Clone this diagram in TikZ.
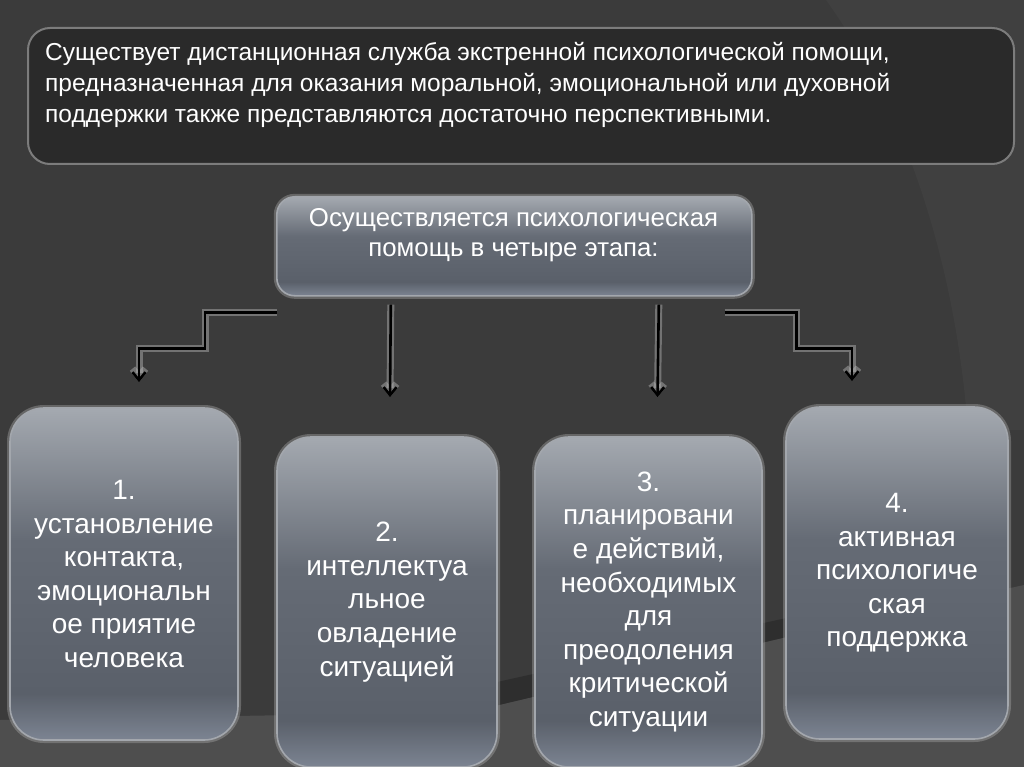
\documentclass[tikz,border=0pt]{standalone}
\usepackage{fontspec}
\setmainfont{Liberation Sans}
\usetikzlibrary{arrows.meta,calc}
\definecolor{bg}{HTML}{3B3B3B}
\definecolor{bgarc}{HTML}{404040}
\definecolor{floorc}{HTML}{4E4E4E}
\definecolor{bandc}{HTML}{2E2E2E}
\definecolor{infofill}{HTML}{2A2A2A}
\definecolor{infoline}{HTML}{7C7C7C}
\definecolor{btop}{HTML}{A4A9B0}
\definecolor{bmid}{HTML}{656B75}
\definecolor{bmid2}{HTML}{5A606A}
\definecolor{bbot}{HTML}{7C8492}
\definecolor{bline}{HTML}{A3A7AD}
\definecolor{glowc}{HTML}{B8B8B8}
\pgfdeclareverticalshading{stageshade}{100bp}{color(0bp)=(bbot); color(25bp)=(bbot); color(32bp)=(bmid2); color(55bp)=(bmid); color(75bp)=(btop); color(100bp)=(btop)}
\tikzset{
  infobox/.style={draw=infoline, line width=2pt, fill=infofill, rounded corners=22pt, inner sep=0pt},
  stagebox/.style={draw=bline, line width=1.6pt, shading=stageshade, rounded corners=34pt,
     preaction={draw=glowc, line width=6pt, opacity=0.35},
     text=white, align=center, inner sep=0pt, font=\fontsize{28}{33.6}\selectfont},
  mainbox/.style={stagebox, rounded corners=18pt},
  conn/.style={draw=black, line width=2.6pt, line join=miter,
     preaction={draw=glowc, line width=7pt, opacity=0.45}},
  arr/.style={conn, -{Straight Barb[length=8pt,width=13pt]}}
}
\begin{document}
\begin{tikzpicture}[x=1pt,y=-1pt]
\useasboundingbox (0,0) rectangle (1024,767);
% background
\fill[bg] (0,0) rectangle (1024,767);
\fill[bgarc] (826,0) .. controls (905,110) and (955,260) .. (968,430) -- (1024,430) -- (1024,0) -- cycle;
\fill[bandc] (470,688) -- (800,615) -- (800,634) -- (470,712) -- cycle;
\fill[floorc] (0,720) -- (470,712) -- (800,634) -- (1024,585) -- (1024,767) -- (0,767) -- cycle;
% top information box
\node[infobox, anchor=north west, minimum width=986pt, minimum height=136pt] (info) at (27,27) {};
\node[anchor=north west, inner sep=0pt, align=left, text=white, font=\fontsize{24.5}{31}\selectfont] (infotext) at (45,42)
 {Существует дистанционная служба экстренной психологической помощи,\\
  предназначенная для оказания моральной, эмоциональной или духовной\\
  поддержки также представляются достаточно перспективными.};
% main box
\node[mainbox, minimum width=475pt, minimum height=99pt, anchor=north west] (main) at (276,196) {};
\node[text=white, align=center, inner sep=0pt, font=\fontsize{25.8}{30}\selectfont, anchor=north] (maintext) at (513.5,208)
 {Осуществляется психологическая\\помощь в четыре этапа:};
% stage boxes
\node[stagebox, minimum width=228pt, minimum height=332pt] (b1) at (124,574)
 {1.\\установление\\контакта,\\эмоциональн\\ое приятие\\человека};
\node[stagebox, minimum width=220pt, minimum height=330pt] (b2) at (387,602)
 {2.\\интеллектуа\\льное\\овладение\\ситуацией};
\node[stagebox, minimum width=227pt, minimum height=330pt] (b3) at (648.5,602)
 {3.\\планировани\\е действий,\\необходимых\\для\\преодоления\\критической\\ситуации};
\node[stagebox, minimum width=222pt, minimum height=332pt] (b4) at (897,573)
 {4.\\активная\\психологиче\\ская\\поддержка};
% connector end points
\coordinate (s1) at ($(main.south west)+(1,16)$);
\coordinate (e1) at ($(b1.north)+(15,-25)$);
\coordinate (s2) at ($(main.south)+(-123.5,8)$);
\coordinate (e2) at ($(b2.north)+(3,-39)$);
\coordinate (s3) at ($(main.south)+(144.5,8)$);
\coordinate (e3) at ($(b3.north)+(9,-39)$);
\coordinate (s4) at ($(main.south east)+(-28,16)$);
\coordinate (e4) at ($(b4.north)+(-45,-25)$);
% connectors
\draw[arr] (s1) -- ++(-72,0) -- ++(0,36) -| (e1);
\draw[arr] (s2) -- (e2);
\draw[arr] (s3) -- (e3);
\draw[arr] (s4) -- ++(72,0) -- ++(0,36) -| (e4);
\end{tikzpicture}
\end{document}
